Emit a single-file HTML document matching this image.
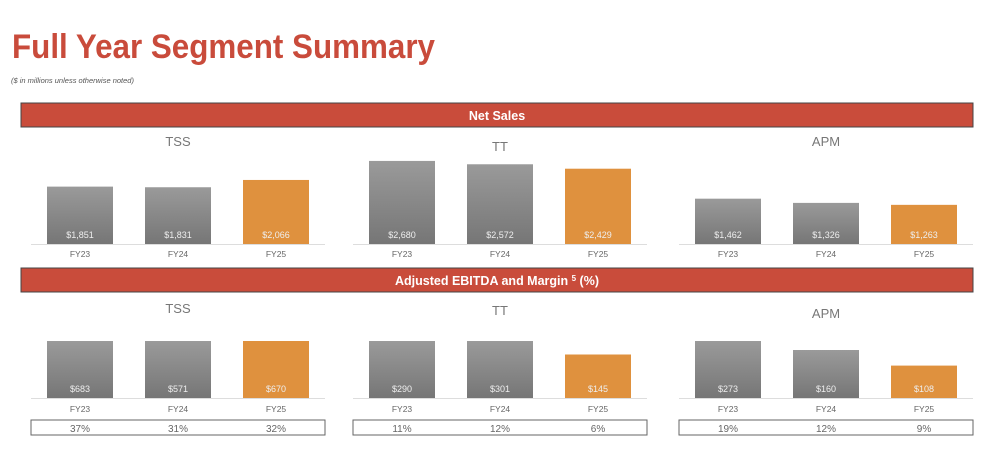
<!DOCTYPE html>
<html><head><meta charset="utf-8"><style>
html,body{margin:0;padding:0;background:#fff;width:998px;height:454px;overflow:hidden}
svg{display:block;font-family:"Liberation Sans",Arial,sans-serif}
</style></head><body>
<svg id="chart" width="998" height="454" viewBox="0 0 998 454">
<defs>
<linearGradient id="gray" x1="0" y1="0" x2="0" y2="1"><stop offset="0" stop-color="#9a9a9a"/><stop offset="1" stop-color="#767676"/></linearGradient>
</defs>
<text x="12" y="58" font-size="34" font-weight="bold" fill="#c94b3b" textLength="423" lengthAdjust="spacingAndGlyphs">Full Year Segment Summary</text>
<text x="11" y="83" font-size="7.5" font-style="italic" fill="#555">($ in millions unless otherwise noted)</text>
<g>
<rect x="21" y="103" width="952" height="24" fill="#c94c3b" stroke="#444" stroke-width="1"/>
<text x="497" y="120" font-size="12.5" font-weight="bold" fill="#fff" text-anchor="middle">Net Sales</text>
</g>
<g>
<rect x="21" y="268" width="952" height="24" fill="#c94c3b" stroke="#444" stroke-width="1"/>
<text x="497" y="285" font-size="12.5" font-weight="bold" fill="#fff" text-anchor="middle">Adjusted EBITDA and Margin <tspan font-size="8" dy="-4">5</tspan><tspan dy="4"> (%)</tspan></text>
</g>
<g id="marks"></g>
</svg>
<script>
const categories = ["FY23","FY24","FY25"];
const segments = ["TSS","TT","APM"];
const netSalesTSS = [1851,1831,2066];
const netSalesTT = [2680,2572,2429];
const netSalesAPM = [1462,1326,1263];
const ebitdaTSS = [683,571,670];
const ebitdaTT = [290,301,145];
const ebitdaAPM = [273,160,108];
const marginTSS = ["37%","31%","32%"];
const marginTT = ["11%","12%","6%"];
const marginAPM = ["19%","12%","9%"];

const NS = "http://www.w3.org/2000/svg";
const g = document.getElementById("marks");
function el(tag, attrs, txt){const e=document.createElementNS(NS,tag);for(const k in attrs)e.setAttribute(k,attrs[k]);if(txt!==undefined)e.textContent=txt;g.appendChild(e);return e;}
const panelX = [31,353,679];
const panelW = 294;
function xBand(p,i){return panelX[p] + panelW/3*i + panelW/6;}
function ySales(v){return 244 - v*0.031;}
function yEbitda(v){return 398 - Math.min(57, v*0.3);}
const salesData=[netSalesTSS,netSalesTT,netSalesAPM];
const ebitdaData=[ebitdaTSS,ebitdaTT,ebitdaAPM];
const marginData=[marginTSS,marginTT,marginAPM];

function drawPanel(p, data, yFn, base, titleY, labelY, section){
  const t=el("text",{x:panelX[p]+panelW/2,y:titleY,"font-size":13,fill:"#777","text-anchor":"middle"},segments[p]);
  
  
  const ax=el("line",{x1:panelX[p],x2:panelX[p]+panelW,y1:base+0.5,y2:base+0.5,stroke:"#ddd"});
  
  
  for(let i=0;i<3;i++){
    const cx=xBand(p,i), y=yFn(data[i]);
    const r=el("rect",{x:cx-33,y:y,width:66,height:base-y,fill:i==2?"#df913e":"url(#gray)"});
    
    
    const v=el("text",{x:cx,y:base-6,"font-size":9,fill:"#eee","text-anchor":"middle"},"$"+data[i].toLocaleString("en-US"));
    
    
    const c=el("text",{x:cx,y:labelY,"font-size":8.5,fill:"#666","text-anchor":"middle"},categories[i]);
    
    
  }
}
for(let p=0;p<3;p++){
  drawPanel(p,salesData[p],ySales,244,[146,151,146][p],257,"net-sales");
  drawPanel(p,ebitdaData[p],yEbitda,398,[313,315,318][p],412,"ebitda");
  const box=el("rect",{x:panelX[p],y:420,width:panelW,height:15,fill:"#fff",stroke:"#666","stroke-width":1});
  
  
  for(let i=0;i<3;i++){
    const m=el("text",{x:xBand(p,i),y:432,"font-size":10,fill:"#666","text-anchor":"middle"},marginData[p][i]);
    
    
  }
}
</script>
</body></html>
